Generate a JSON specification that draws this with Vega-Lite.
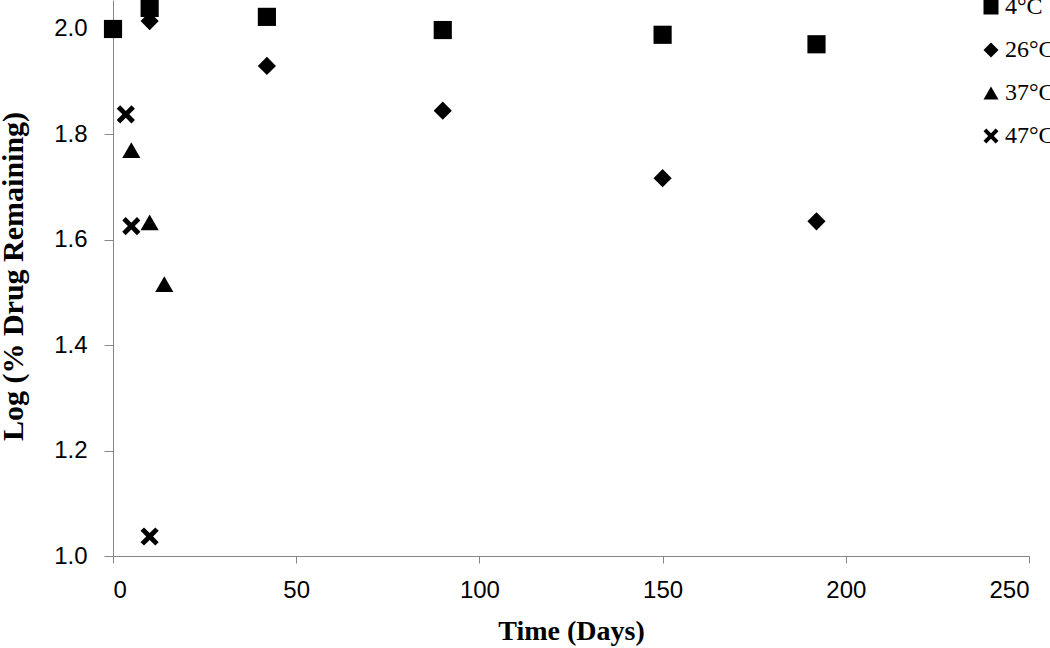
{
  "$schema": "https://vega.github.io/schema/vega-lite/v6.json",
  "width": 916,
  "height": 556,
  "autosize": {"type": "none"},
  "padding": {"left": 113, "top": 0, "right": 21, "bottom": 92},
  "background": "white",
  "config": {"view": {"stroke": null}},
  "data": {
    "values": [
      {"temp": "4°C", "day": 0, "logpct": 2.0},
      {"temp": "4°C", "day": 10, "logpct": 2.04},
      {"temp": "4°C", "day": 42, "logpct": 2.023},
      {"temp": "4°C", "day": 90, "logpct": 1.998},
      {"temp": "4°C", "day": 150, "logpct": 1.989},
      {"temp": "4°C", "day": 192, "logpct": 1.971},
      {"temp": "26°C", "day": 0, "logpct": 2.0},
      {"temp": "26°C", "day": 10, "logpct": 2.015},
      {"temp": "26°C", "day": 42, "logpct": 1.93},
      {"temp": "26°C", "day": 90, "logpct": 1.845},
      {"temp": "26°C", "day": 150, "logpct": 1.717},
      {"temp": "26°C", "day": 192, "logpct": 1.635},
      {"temp": "37°C", "day": 0, "logpct": 2.0},
      {"temp": "37°C", "day": 5, "logpct": 1.77},
      {"temp": "37°C", "day": 10, "logpct": 1.633},
      {"temp": "37°C", "day": 14, "logpct": 1.516},
      {"temp": "47°C", "day": 0, "logpct": 2.0},
      {"temp": "47°C", "day": 3.5, "logpct": 1.838},
      {"temp": "47°C", "day": 5, "logpct": 1.626},
      {"temp": "47°C", "day": 10, "logpct": 1.037}
    ]
  },
  "mark": {"type": "point", "filled": true, "opacity": 1, "size": 330, "color": "black"},
  "encoding": {
    "x": {
      "field": "day", "type": "quantitative",
      "scale": {"domain": [0, 250], "nice": false, "zero": false},
      "axis": {
        "values": [0, 50, 100, 150, 200, 250],
        "grid": false,
        "domainColor": "#868686", "tickColor": "#868686",
        "tickSize": 7, "labelPadding": 15,
        "labelFont": "Liberation Sans", "labelFontSize": 24, "labelColor": "black",
        "title": "Time (Days)",
        "titleFont": "Liberation Serif", "titleFontSize": 28, "titleFontWeight": "bold", "titleColor": "black",
        "titleBaseline": "alphabetic", "titleY": 83
      }
    },
    "y": {
      "field": "logpct", "type": "quantitative",
      "scale": {"domain": [1.0, 2.055], "nice": false, "zero": false},
      "axis": {
        "values": [1.0, 1.2, 1.4, 1.6, 1.8, 2.0],
        "format": ".1f",
        "grid": false,
        "domainColor": "#868686", "tickColor": "#868686",
        "tickSize": 9, "labelPadding": 17,
        "labelFont": "Liberation Sans", "labelFontSize": 24, "labelColor": "black",
        "title": "Log (% Drug Remaining)",
        "titleFont": "Liberation Serif", "titleFontSize": 30, "titleFontWeight": "bold", "titleColor": "black",
        "titleBaseline": "alphabetic", "titleAngle": -90, "titleX": -91, "titleY": 276, "titleAlign": "center"
      }
    },
    "shape": {
      "field": "temp", "type": "nominal",
      "scale": {
        "domain": ["4°C", "26°C", "37°C", "47°C"],
        "range": ["square", "diamond", "triangle-up", "M-1,-0.62L-0.62,-1L0,-0.38L0.62,-1L1,-0.62L0.38,0L1,0.62L0.62,1L0,0.38L-0.62,1L-1,0.62L-0.38,0Z"]
      },
      "legend": {
        "title": null,
        "orient": "none",
        "legendX": 866,
        "legendY": -5,
        "padding": 0,
        "symbolSize": 225,
        "symbolFillColor": "black",
        "symbolStrokeColor": "black",
        "symbolStrokeWidth": 0,
        "symbolOpacity": 1,
        "labelFont": "Liberation Serif",
        "labelFontSize": 24,
        "labelColor": "black",
        "labelOffset": 2,
        "rowPadding": 19
      }
    }
  }
}
